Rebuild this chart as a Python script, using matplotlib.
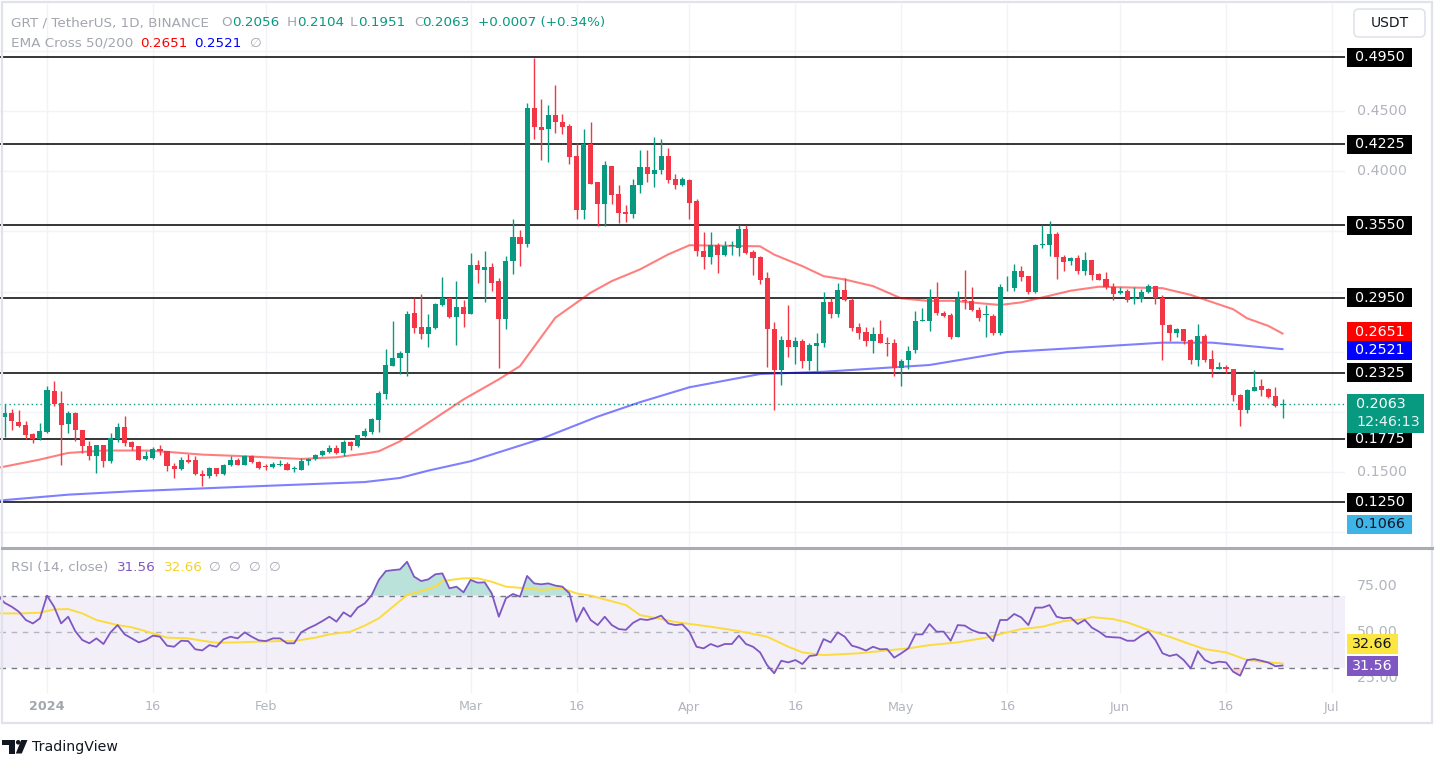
import numpy as np
import matplotlib
matplotlib.use('Agg')
import matplotlib.pyplot as plt
from matplotlib.patches import Rectangle, FancyBboxPatch, Polygon, Circle

plt.rcParams['font.family'] = ['DejaVu Sans']

# ---------------- data (days counted from 2024-01-01) ----------------
first_day = -6  # 2023-12-26
opens = [0.1958, 0.1986, 0.1914, 0.1889, 0.1817, 0.1770, 0.1831, 0.2172, 0.2075, 0.1895,
         0.1992, 0.1845, 0.1719, 0.1631, 0.1722, 0.1594, 0.1770, 0.1872, 0.1747, 0.1714,
         0.1611, 0.1617, 0.1692, 0.1678, 0.1553, 0.1525, 0.1603, 0.1603, 0.1483, 0.1464,
         0.1533, 0.1483, 0.1561, 0.1602, 0.1561, 0.1630, 0.1583, 0.1553, 0.1539, 0.1561,
         0.1569, 0.1522, 0.1519, 0.1589, 0.1608, 0.1639, 0.1667, 0.1700, 0.1658, 0.1747,
         0.1714, 0.1797, 0.1833, 0.1930, 0.2150, 0.2380, 0.2444, 0.2491, 0.2825, 0.2705,
         0.2650, 0.2694, 0.2889, 0.2950, 0.2789, 0.2872, 0.2810, 0.3218, 0.3179, 0.3204,
         0.3087, 0.2774, 0.3251, 0.3456, 0.3398, 0.4529, 0.4368, 0.4349, 0.4465, 0.4412,
         0.4376, 0.4127, 0.3675, 0.4224, 0.3911, 0.3725, 0.4044, 0.3808, 0.3664, 0.3642,
         0.3883, 0.4035, 0.3980, 0.4008, 0.4127, 0.3933, 0.3886, 0.3924, 0.3753, 0.3335,
         0.3285, 0.3385, 0.3302, 0.3376, 0.3362, 0.3522, 0.3329, 0.3285, 0.3109, 0.2692,
         0.2347, 0.2598, 0.2535, 0.2590, 0.2419, 0.2549, 0.2571, 0.2916, 0.2811, 0.3012,
         0.2929, 0.2706, 0.2667, 0.2590, 0.2651, 0.2573, 0.2571, 0.2364, 0.2430, 0.2513,
         0.2753, 0.2753, 0.2946, 0.2824, 0.2808, 0.2626, 0.2932, 0.2924, 0.2849, 0.2803,
         0.2800, 0.2653, 0.3034, 0.3029, 0.3167, 0.3125, 0.2993, 0.3387, 0.3387, 0.3481,
         0.3283, 0.3250, 0.3277, 0.3172, 0.3261, 0.3145, 0.3103, 0.3040, 0.2985, 0.3007,
         0.2936, 0.2936, 0.2997, 0.3047, 0.2944, 0.2719, 0.2658, 0.2686, 0.2597, 0.2428,
         0.2630, 0.2436, 0.2358, 0.2375, 0.2358, 0.2139, 0.2011, 0.2175, 0.2214, 0.2186,
         0.2130, 0.2056]
highs = [0.2061, 0.2020, 0.2011, 0.1922, 0.1825, 0.1903, 0.2214, 0.2256, 0.2172, 0.2006,
         0.2000, 0.1845, 0.1761, 0.1722, 0.1722, 0.1825, 0.1908, 0.1964, 0.1761, 0.1714,
         0.1672, 0.1706, 0.1722, 0.1678, 0.1575, 0.1622, 0.1650, 0.1631, 0.1519, 0.1539,
         0.1533, 0.1567, 0.1631, 0.1616, 0.1644, 0.1644, 0.1594, 0.1566, 0.1583, 0.1602,
         0.1580, 0.1547, 0.1616, 0.1616, 0.1650, 0.1686, 0.1728, 0.1722, 0.1769, 0.1761,
         0.1811, 0.1867, 0.1950, 0.2172, 0.2519, 0.2755, 0.2505, 0.2839, 0.2950, 0.2983,
         0.2811, 0.2908, 0.3122, 0.2950, 0.3089, 0.2928, 0.3323, 0.3259, 0.3337, 0.3240,
         0.3115, 0.3295, 0.3606, 0.3511, 0.4570, 0.4945, 0.4598, 0.4548, 0.4714, 0.4473,
         0.4390, 0.4238, 0.4354, 0.4412, 0.3911, 0.4085, 0.4044, 0.3883, 0.3719, 0.3938,
         0.4177, 0.4177, 0.4285, 0.4271, 0.4196, 0.3980, 0.3952, 0.3938, 0.3767, 0.3495,
         0.3495, 0.3404, 0.3423, 0.3423, 0.3550, 0.3550, 0.3349, 0.3294, 0.3161, 0.2747,
         0.2631, 0.2885, 0.2623, 0.2609, 0.2576, 0.2659, 0.2998, 0.2943, 0.3067, 0.3114,
         0.2943, 0.2736, 0.2709, 0.2709, 0.2761, 0.2618, 0.2604, 0.2438, 0.2549, 0.2838,
         0.2866, 0.3020, 0.3076, 0.2841, 0.2819, 0.3007, 0.3178, 0.3034, 0.2869, 0.2891,
         0.2814, 0.3062, 0.3131, 0.3227, 0.3214, 0.3131, 0.3393, 0.3553, 0.3586, 0.3495,
         0.3302, 0.3283, 0.3305, 0.3330, 0.3261, 0.3158, 0.3164, 0.3067, 0.3040, 0.3020,
         0.3039, 0.3019, 0.3061, 0.3047, 0.2972, 0.2733, 0.2694, 0.2691, 0.2603, 0.2733,
         0.2650, 0.2511, 0.2416, 0.2389, 0.2358, 0.2150, 0.2186, 0.2347, 0.2269, 0.2194,
         0.2208, 0.2104]
lows = [0.1789, 0.1847, 0.1872, 0.1772, 0.1742, 0.1764, 0.1825, 0.2047, 0.1561, 0.1825,
        0.1761, 0.1658, 0.1603, 0.1492, 0.1539, 0.1575, 0.1750, 0.1714, 0.1686, 0.1603,
        0.1603, 0.1611, 0.1644, 0.1511, 0.1450, 0.1519, 0.1575, 0.1478, 0.1386, 0.1450,
        0.1464, 0.1478, 0.1547, 0.1555, 0.1555, 0.1575, 0.1525, 0.1519, 0.1533, 0.1553,
        0.1519, 0.1497, 0.1514, 0.1555, 0.1602, 0.1630, 0.1658, 0.1650, 0.1630, 0.1686,
        0.1705, 0.1792, 0.1816, 0.1830, 0.2103, 0.2380, 0.2311, 0.2297, 0.2658, 0.2603,
        0.2539, 0.2686, 0.2880, 0.2778, 0.2555, 0.2705, 0.2810, 0.3068, 0.2915, 0.3004,
        0.2367, 0.2685, 0.3148, 0.3212, 0.3370, 0.4265, 0.4091, 0.4080, 0.4321, 0.4307,
        0.4063, 0.3600, 0.3600, 0.3891, 0.3545, 0.3545, 0.3725, 0.3572, 0.3581, 0.3614,
        0.3816, 0.3911, 0.3869, 0.3980, 0.3905, 0.3855, 0.3877, 0.3600, 0.3294, 0.3191,
        0.3233, 0.3156, 0.3294, 0.3307, 0.3294, 0.3313, 0.3136, 0.3065, 0.2369, 0.2011,
        0.2226, 0.2452, 0.2397, 0.2361, 0.2347, 0.2342, 0.2535, 0.2778, 0.2791, 0.2921,
        0.2673, 0.2604, 0.2549, 0.2493, 0.2568, 0.2466, 0.2300, 0.2217, 0.2355, 0.2485,
        0.2753, 0.2670, 0.2808, 0.2791, 0.2606, 0.2620, 0.2855, 0.2841, 0.2758, 0.2620,
        0.2642, 0.2642, 0.3007, 0.3007, 0.3084, 0.2979, 0.2985, 0.3360, 0.3296, 0.3103,
        0.3167, 0.3222, 0.3145, 0.3139, 0.3095, 0.3095, 0.3020, 0.2929, 0.2979, 0.2910,
        0.2894, 0.2916, 0.2991, 0.2900, 0.2428, 0.2589, 0.2622, 0.2566, 0.2394, 0.2380,
        0.2416, 0.2289, 0.2353, 0.2325, 0.2089, 0.1880, 0.1991, 0.2170, 0.2130, 0.2116,
        0.2039, 0.1951]
closes = [0.1992, 0.1922, 0.1881, 0.1806, 0.1775, 0.1839, 0.2178, 0.2061, 0.1889, 0.1992,
          0.1845, 0.1714, 0.1631, 0.1722, 0.1594, 0.1778, 0.1872, 0.1742, 0.1706, 0.1603,
          0.1631, 0.1694, 0.1672, 0.1547, 0.1528, 0.1603, 0.1583, 0.1486, 0.1469, 0.1533,
          0.1483, 0.1561, 0.1603, 0.1561, 0.1630, 0.1580, 0.1533, 0.1539, 0.1566, 0.1566,
          0.1519, 0.1533, 0.1594, 0.1608, 0.1644, 0.1672, 0.1700, 0.1658, 0.1750, 0.1714,
          0.1803, 0.1844, 0.1936, 0.2158, 0.2386, 0.2450, 0.2491, 0.2816, 0.2700, 0.2650,
          0.2705, 0.2894, 0.2944, 0.2789, 0.2872, 0.2811, 0.3218, 0.3179, 0.3204, 0.3068,
          0.2774, 0.3254, 0.3456, 0.3398, 0.4523, 0.4368, 0.4340, 0.4465, 0.4410, 0.4371,
          0.4119, 0.3675, 0.4224, 0.3897, 0.3730, 0.4052, 0.3800, 0.3656, 0.3642, 0.3883,
          0.4035, 0.3980, 0.4010, 0.4127, 0.3927, 0.3886, 0.3933, 0.3739, 0.3335, 0.3285,
          0.3385, 0.3302, 0.3376, 0.3390, 0.3522, 0.3321, 0.3280, 0.3100, 0.2687, 0.2347,
          0.2598, 0.2535, 0.2590, 0.2419, 0.2554, 0.2571, 0.2916, 0.2811, 0.3012, 0.2929,
          0.2700, 0.2659, 0.2590, 0.2645, 0.2568, 0.2565, 0.2364, 0.2424, 0.2507, 0.2756,
          0.2761, 0.2946, 0.2819, 0.2800, 0.2620, 0.2938, 0.2918, 0.2846, 0.2780, 0.2811,
          0.2653, 0.3034, 0.3041, 0.3167, 0.3123, 0.2993, 0.3387, 0.3396, 0.3476, 0.3283,
          0.3247, 0.3277, 0.3172, 0.3261, 0.3139, 0.3098, 0.3034, 0.2979, 0.3007, 0.2929,
          0.2950, 0.2997, 0.3047, 0.2944, 0.2719, 0.2658, 0.2686, 0.2589, 0.2428, 0.2630,
          0.2428, 0.2353, 0.2375, 0.2353, 0.2139, 0.2011, 0.2180, 0.2208, 0.2178, 0.2122,
          0.2047, 0.2063]

ema50_days = [-7, -1, 3, 8, 14, 17, 22, 27, 31, 36, 41, 45, 47, 50, 54, 59, 64, 67, 72, 77,
              80, 84, 88, 91, 101, 103, 107, 110, 113, 117, 121, 125, 128, 135, 138, 141,
              145, 149, 153, 158, 162, 168, 170, 173, 175]
ema50_vals = [0.1533, 0.1603, 0.1658, 0.1678, 0.1678, 0.1667, 0.1644, 0.1633, 0.1622, 0.1608,
              0.1622, 0.1652, 0.1672, 0.1755, 0.1908, 0.2103, 0.2270, 0.2380, 0.2782, 0.2990,
              0.3087, 0.3184, 0.3309, 0.3385, 0.3376, 0.3307, 0.3211, 0.3128, 0.3100, 0.3045,
              0.2943, 0.2921, 0.2924, 0.2888, 0.2910, 0.2951, 0.3007, 0.3040, 0.3034, 0.3028,
              0.2972, 0.2853, 0.2777, 0.2714, 0.2651]
ema200_days = [-7, 3, 12, 27, 45, 50, 54, 60, 70, 78, 84, 91, 101, 110, 125, 136, 145, 155,
               158, 165, 175]
ema200_vals = [0.1261, 0.1311, 0.1339, 0.1375, 0.1416, 0.1450, 0.1511, 0.1589, 0.1775, 0.1960,
               0.2080, 0.2204, 0.2314, 0.2333, 0.2389, 0.2497, 0.2528, 0.2564, 0.2575, 0.2575,
               0.2521]

rsi_first_day = -7
rsi_vals = [70.3, 66.0, 63.9, 61.2, 56.6, 54.7, 57.5, 70.0, 63.9, 54.7,
            58.4, 50.5, 45.6, 43.8, 46.5, 43.4, 49.8, 53.8, 48.7, 46.5,
            44.3, 45.6, 48.0, 47.4, 42.5, 41.9, 45.2, 45.0, 40.5, 39.9,
            42.8, 41.9, 46.0, 47.4, 46.5, 49.8, 47.4, 45.4, 45.0, 46.5,
            46.5, 43.8, 43.8, 49.8, 52.0, 53.8, 56.0, 58.4, 55.7, 60.8,
            58.4, 63.4, 65.7, 70.3, 78.6, 83.5, 84.0, 84.4, 88.6, 80.4,
            78.0, 78.9, 81.7, 82.2, 74.0, 74.9, 71.8, 78.6, 77.1, 77.3,
            71.2, 58.4, 68.5, 70.9, 69.4, 80.8, 76.7, 76.2, 76.7, 75.5,
            74.9, 71.2, 55.7, 63.4, 56.6, 53.8, 58.4, 53.8, 51.6, 51.2,
            55.0, 57.1, 56.6, 57.5, 59.0, 54.7, 53.8, 54.2, 50.0, 41.9,
            41.0, 43.4, 41.9, 43.4, 43.4, 48.0, 43.4, 41.9, 38.8, 31.8,
            27.3, 34.2, 33.3, 34.6, 32.4, 36.8, 37.3, 46.1, 44.3, 49.8,
            47.4, 42.5, 41.4, 39.8, 41.9, 40.5, 40.6, 35.9, 38.3, 41.0,
            48.7, 48.7, 54.4, 50.2, 50.2, 45.2, 53.8, 53.5, 51.1, 49.6,
            49.3, 45.0, 56.6, 56.6, 59.9, 58.0, 53.8, 63.4, 63.4, 64.8,
            58.4, 57.5, 57.9, 54.4, 56.6, 52.4, 50.2, 47.4, 47.1, 46.9,
            45.2, 45.2, 48.0, 50.2, 45.6, 38.3, 36.8, 37.7, 34.6, 30.0,
            39.5, 34.6, 32.8, 33.7, 33.3, 28.2, 26.0, 34.6, 35.1, 34.2,
            33.2, 31.2, 31.56]
rsima_days = [-7, -4, -1, 1, 3, 5, 7, 10, 12, 15, 17, 20, 22, 24, 27, 30, 33, 35, 38, 40,
              43, 45, 47, 49, 51, 53, 55, 56, 59, 61, 63, 65, 68, 70, 73, 75, 77, 79, 82, 84,
              87, 89, 94, 98, 102, 105, 107, 110, 115, 118, 122, 125, 129, 133, 136, 138,
              141, 144, 147, 148, 151, 153, 156, 159, 162, 164, 167, 170, 172, 175]
rsima_vals = [60.2, 60.2, 60.6, 62.4, 62.6, 60.2, 56.6, 53.8, 52.6, 49.3, 46.9, 46.5, 45.2,
              44.1, 44.3, 44.7, 45.0, 45.0, 46.9, 48.7, 50.2, 53.5, 57.5, 63.9, 70.3, 72.5,
              74.9, 78.0, 79.5, 79.5, 77.6, 74.9, 74.0, 73.1, 74.0, 71.2, 70.0, 67.9, 64.8,
              59.3, 57.1, 55.5, 52.9, 50.5, 47.4, 41.9, 38.8, 37.3, 38.3, 39.5, 41.0, 42.8,
              44.3, 46.9, 49.8, 51.6, 52.9, 56.0, 57.1, 58.2, 57.1, 55.3, 51.1, 47.4, 43.2,
              40.6, 38.8, 34.6, 33.7, 32.66]

levels = [0.4950, 0.4225, 0.3550, 0.2950, 0.2325, 0.1775, 0.1250]
last_price = 0.2063
countdown = "12:46:13"
ema50_last = 0.2651
ema200_last = 0.2521
alert_price = 0.1066
price_ticks = [0.10, 0.15, 0.20, 0.25, 0.30, 0.35, 0.40, 0.45, 0.50]
rsi_ticks = [25, 50, 75]
rsi_last = 31.56
rsima_last = 32.66
date_tick_days = [0, 15, 31, 60, 75, 91, 106, 121, 136, 152, 167, 182]
date_tick_labels = ["2024", "16", "Feb", "Mar", "16", "Apr", "16", "May", "16", "Jun", "16", "Jul"]
header_title = "GRT / TetherUS, 1D, BINANCE"
ohlc_labels = ["O", "H", "L", "C"]
ohlc_values = ["0.2056", "0.2104", "0.1951", "0.2063"]
change_text = "+0.0007 (+0.34%)"

# ---------------- styling / layout ----------------
UP, DOWN = "#089981", "#f23645"
GRAY_T = "#a3a6af"
TICK_T = "#b2b5be"
W, H = 1436, 757
PLOT_R = 1345
P_TOP, P_BOT = 4, 546
R_TOP, R_BOT = 549, 693
px_per_price = (502 - 57) / (0.495 - 0.125)
px_per_rsi = 1.82
px_per_day, x_day0 = 7.06, 47

fig = plt.figure(figsize=(W / 100, H / 100), dpi=100)
fig.patch.set_facecolor("white")

def frac_rect(top, bottom, right=PLOT_R):
    return [0, 1 - bottom / H, right / W, (bottom - top) / H]

ax = fig.add_axes(frac_rect(P_TOP, P_BOT))
axr = fig.add_axes(frac_rect(R_TOP, R_BOT))
xlim = ((0 - x_day0) / px_per_day, (PLOT_R - x_day0) / px_per_day)
for a in (ax, axr):
    a.set_xlim(*xlim)
    a.set_xticks([]); a.set_yticks([])
    for s in a.spines.values():
        s.set_visible(False)
    a.set_facecolor("white")
ax.set_ylim(0.495 - (P_BOT - 57) / px_per_price, 0.495 + (57 - P_TOP) / px_per_price)
axr.set_ylim(50 - (R_BOT - 632) / px_per_rsi, 50 + (632 - R_TOP) / px_per_rsi)

# grid
for d in date_tick_days:
    ax.axvline(d, color="#f2f3f6", lw=1, zorder=0)
    axr.axvline(d, color="#f2f3f6", lw=1, zorder=0)
for t in price_ticks:
    ax.axhline(t, color="#f2f3f6", lw=1, zorder=0)

# level lines and current price
for v in levels:
    ax.axhline(v, color="black", lw=1.1, zorder=2)
ax.axhline(last_price, color=UP, lw=1.0, ls=(0, (1, 2.2)), zorder=2)

# EMA lines
ax.plot(ema50_days, ema50_vals, color="#ff0000", alpha=0.5, lw=1.5, zorder=2.5)
ax.plot(ema200_days, ema200_vals, color="#0000ff", alpha=0.5, lw=1.5, zorder=2.5)

# candles
o = np.array(opens); h = np.array(highs); l = np.array(lows); c = np.array(closes)
days = np.arange(first_day, first_day + len(o))
cols = np.where(c >= o, UP, DOWN)
ax.vlines(days, l, h, colors=cols, lw=1.0, zorder=3)
ax.bar(days, np.maximum(np.abs(c - o), 0.0007), bottom=np.minimum(o, c), width=0.72,
       color=cols, lw=0, zorder=4)

# RSI panel
rsi = np.array(rsi_vals)
rdays = np.arange(rsi_first_day, rsi_first_day + len(rsi))
axr.axhspan(30, 70, color="#7e57c2", alpha=0.09, lw=0, zorder=0.5)
axr.axhline(70, color="#787b86", lw=1, ls=(0, (4, 4)), zorder=1)
axr.axhline(50, color="#b2b5be", lw=1, ls=(0, (4, 4)), zorder=1)
axr.axhline(30, color="#787b86", lw=1, ls=(0, (4, 4)), zorder=1)
axr.fill_between(rdays, rsi, 70, where=rsi > 70, interpolate=True, color="#089981",
                 alpha=0.28, lw=0, zorder=1.5)
axr.fill_between(rdays, rsi, 30, where=rsi < 30, interpolate=True, color="#f23645",
                 alpha=0.22, lw=0, zorder=1.5)
axr.plot(rsima_days, rsima_vals, color="#fbdc3c", lw=1.4, zorder=2)
axr.plot(rdays, rsi, color="#7e57c2", lw=1.3, zorder=3)

# ---------------- overlay (pixel coordinates, bottom-origin) ----------------
ov = fig.add_axes([0, 0, 1, 1])
ov.set_xlim(0, W); ov.set_ylim(0, H)
ov.axis("off")

def ypx_price(v):
    return ax.transData.transform((0, v))[1]

def ypx_rsi(v):
    return axr.transData.transform((0, v))[1]

def xpx_day(d):
    return axr.transData.transform((d, 0))[0]

# frame and pane separator
ov.add_patch(Rectangle((1.5, H - 723), 1430.5, 721, fc="none", ec="#e0e3eb", lw=1.6, zorder=1))
ov.plot([1.5, 1432], [H - 547.5, H - 547.5], color="#a9acb4", lw=2.2, zorder=2)

FS_AX = 10.3

def box(yc, text, fc, tc, x0=1347, x1=1412, hh=19):
    ov.add_patch(Rectangle((x0, yc - hh / 2), x1 - x0, hh, fc=fc, ec="none", zorder=5))
    ov.text((x0 + x1) / 2, yc, text, color=tc, fontsize=FS_AX, va="center", ha="center",
            zorder=6)

box_centers = []
for v in levels:
    box(ypx_price(v), f"{v:.4f}", "black", "white")
    box_centers.append(ypx_price(v))
box(ypx_price(ema50_last) + 2, f"{ema50_last:.4f}", "#ff0000", "white")
box(ypx_price(ema200_last) - 1, f"{ema200_last:.4f}", "#0000ff", "white")
box(ypx_price(alert_price), f"{alert_price:.4f}", "#3fb4e6", "#131722")
box_centers += [ypx_price(ema50_last) + 2, ypx_price(ema200_last) - 1, ypx_price(alert_price)]

# last price box (two lines)
yl = ypx_price(last_price)
ov.add_patch(Rectangle((1347, yl - 28.5), 77, 39, fc=UP, ec="none", zorder=5))
ov.text(1356, yl, f"{last_price:.4f}", color="white", fontsize=FS_AX, va="center",
        ha="left", zorder=6)
ov.text(1356, yl - 18, countdown, color="#e6f5f2", fontsize=FS_AX, va="center",
        ha="left", zorder=6)
box_centers += [yl, yl - 18]

# price axis tick labels (those hidden behind a label box are not drawn)
for t in price_ticks:
    yt = ypx_price(t)
    if min(abs(yt - bc) for bc in box_centers) < 15:
        continue
    ov.text(1357, yt, f"{t:.4f}", color=TICK_T, fontsize=FS_AX, va="center",
            ha="left", zorder=3)

# RSI axis
for t in rsi_ticks:
    ov.text(1357, ypx_rsi(t), f"{t:.2f}", color=TICK_T, fontsize=FS_AX, va="center",
            ha="left", zorder=3)
yr = ypx_rsi(rsi_last)
box(yr, f"{rsi_last:.2f}", "#7e57c2", "white", x0=1347, x1=1398, hh=20)
box(yr + 22, f"{rsima_last:.2f}", "#fbe642", "#131722", x0=1347, x1=1398, hh=20)

# date labels
for d, lab in zip(date_tick_days, date_tick_labels):
    ov.text(xpx_day(d), H - 707, lab, color="#a3a6af" if lab == "2024" else TICK_T,
            fontsize=9.2, fontweight="bold" if lab == "2024" else "normal",
            ha="center", va="center", zorder=3)

# USDT button
ov.add_patch(FancyBboxPatch((1354, H - 37), 71, 28, boxstyle="round,pad=0,rounding_size=5",
                            fc="white", ec="#e0e3eb", lw=1.2, zorder=5))
ov.text(1389.5, H - 23, "USDT", color="#131722", fontsize=10, ha="center", va="center",
        zorder=6)

# header line 1
FS_H = 9.7
yh1, yh2 = H - 22.5, H - 43.5
ov.text(11, yh1, header_title, color=GRAY_T, fontsize=FS_H, va="center", ha="left", zorder=6)
lab_x = [221, 287, 350, 414]
val_x = [232, 297, 358, 422]
for lab, val, lx, vx in zip(ohlc_labels, ohlc_values, lab_x, val_x):
    ov.text(lx, yh1, lab, color=GRAY_T, fontsize=FS_H, va="center", ha="left", zorder=6)
    ov.text(vx, yh1, val, color=UP, fontsize=FS_H, va="center", ha="left", zorder=6)
ov.text(478, yh1, change_text, color=UP, fontsize=FS_H, va="center", ha="left", zorder=6)

# header line 2
ov.text(11, yh2, "EMA Cross 50/200", color=GRAY_T, fontsize=FS_H, va="center", ha="left",
        zorder=6)
ov.text(140, yh2, f"{ema50_last:.4f}", color="#ff0000", fontsize=FS_H, va="center",
        ha="left", zorder=6)
ov.text(194, yh2, f"{ema200_last:.4f}", color="#0000ff", fontsize=FS_H, va="center",
        ha="left", zorder=6)
ov.text(250, yh2, "\u2205", color=GRAY_T, fontsize=FS_H, va="center", ha="left", zorder=6)

# RSI header
yrh = H - 567.5
ov.text(11, yrh, "RSI (14, close)", color=GRAY_T, fontsize=FS_H, va="center", ha="left",
        zorder=6)
ov.text(117, yrh, f"{rsi_last:.2f}", color="#7e57c2", fontsize=FS_H, va="center", ha="left",
        zorder=6)
ov.text(164, yrh, f"{rsima_last:.2f}", color="#f5d22a", fontsize=FS_H, va="center",
        ha="left", zorder=6)
for xx in (209, 229, 249, 269):
    ov.text(xx, yrh, "\u2205", color=GRAY_T, fontsize=FS_H, va="center", ha="left", zorder=6)

# TradingView logo + wordmark
LOGO = "#131722"
ov.add_patch(Polygon([(2, H - 740), (15, H - 740), (15, H - 753.5), (8.5, H - 753.5),
                      (8.5, H - 744.5), (2, H - 744.5)], closed=True, fc=LOGO, ec="none"))
ov.add_patch(Circle((18.2, H - 742.3), 2.3, fc=LOGO, ec="none"))
ov.add_patch(Polygon([(21.2, H - 740), (27.5, H - 740), (21.8, H - 753.5), (15.8, H - 753.5)],
                     closed=True, fc=LOGO, ec="none"))
ov.text(32, H - 747.5, "TradingView", color=LOGO, fontsize=10.2, va="center", ha="left")

fig.savefig("out.png", dpi=100, facecolor="white")
